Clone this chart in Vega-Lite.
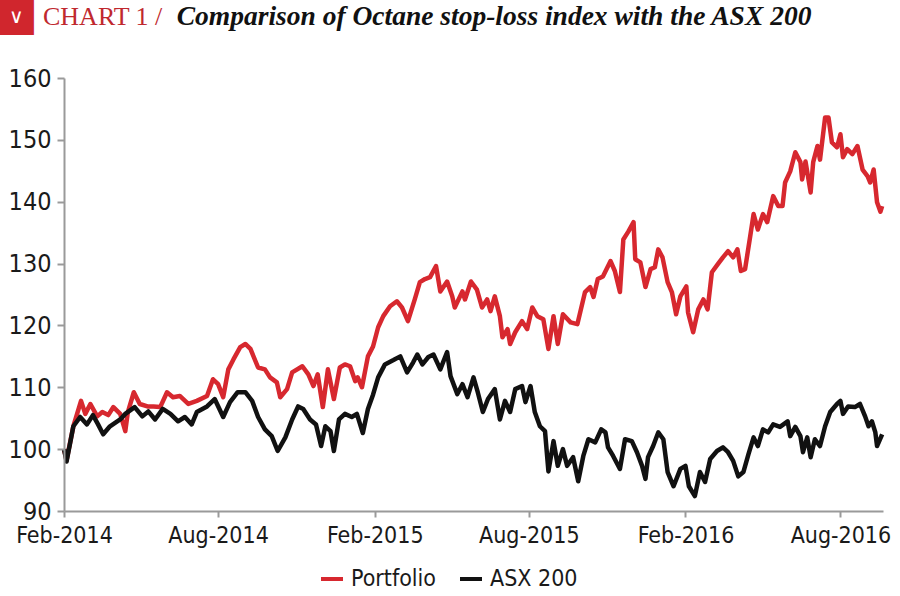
{
"$schema": "https://vega.github.io/schema/vega-lite/v6.json",
"width": 819, "height": 433,
"autosize": {"type": "none"},
"padding": {"left": 64, "top": 78, "right": 17, "bottom": 85},
"background": "white",
"config": {"view": {"stroke": null}, "font": "DejaVu Sans Condensed, DejaVu Sans, sans-serif"},
"title": {
 "text": "CHART 1 /",
 "subtitle": "\u2800\u2800\u2800\u2800\u2800\u2800\u00a0\u00a0Comparison of Octane stop-loss index with the ASX 200",
 "anchor": "start", "frame": "group", "dx": -21, "offset": -40,
 "font": "Liberation Serif", "fontSize": 26, "fontWeight": "normal", "color": "#c0282e",
 "subtitleFont": "Liberation Serif", "subtitleFontSize": 27.5, "subtitleFontStyle": "italic", "subtitleFontWeight": "bold", "subtitleColor": "#111111",
 "subtitlePadding": -27
},
"data": {"values": [
{"date":"2014-02-01","series":"Portfolio","value":100.0},
{"date":"2014-02-04","series":"Portfolio","value":98.2},
{"date":"2014-02-12","series":"Portfolio","value":103.7},
{"date":"2014-02-21","series":"Portfolio","value":107.8},
{"date":"2014-02-26","series":"Portfolio","value":105.7},
{"date":"2014-03-04","series":"Portfolio","value":107.3},
{"date":"2014-03-12","series":"Portfolio","value":105.3},
{"date":"2014-03-18","series":"Portfolio","value":106.0},
{"date":"2014-03-25","series":"Portfolio","value":105.5},
{"date":"2014-03-31","series":"Portfolio","value":106.8},
{"date":"2014-04-08","series":"Portfolio","value":105.7},
{"date":"2014-04-14","series":"Portfolio","value":102.9},
{"date":"2014-04-17","series":"Portfolio","value":106.0},
{"date":"2014-04-24","series":"Portfolio","value":109.2},
{"date":"2014-05-01","series":"Portfolio","value":107.3},
{"date":"2014-05-10","series":"Portfolio","value":106.9},
{"date":"2014-05-17","series":"Portfolio","value":106.9},
{"date":"2014-05-25","series":"Portfolio","value":106.8},
{"date":"2014-06-02","series":"Portfolio","value":109.2},
{"date":"2014-06-09","series":"Portfolio","value":108.4},
{"date":"2014-06-17","series":"Portfolio","value":108.6},
{"date":"2014-06-27","series":"Portfolio","value":107.3},
{"date":"2014-07-07","series":"Portfolio","value":107.8},
{"date":"2014-07-19","series":"Portfolio","value":108.6},
{"date":"2014-07-26","series":"Portfolio","value":111.3},
{"date":"2014-08-01","series":"Portfolio","value":110.5},
{"date":"2014-08-07","series":"Portfolio","value":108.4},
{"date":"2014-08-13","series":"Portfolio","value":112.9},
{"date":"2014-08-19","series":"Portfolio","value":114.5},
{"date":"2014-08-27","series":"Portfolio","value":116.5},
{"date":"2014-09-02","series":"Portfolio","value":117.0},
{"date":"2014-09-08","series":"Portfolio","value":116.2},
{"date":"2014-09-17","series":"Portfolio","value":113.2},
{"date":"2014-09-25","series":"Portfolio","value":112.9},
{"date":"2014-10-01","series":"Portfolio","value":111.6},
{"date":"2014-10-09","series":"Portfolio","value":110.8},
{"date":"2014-10-13","series":"Portfolio","value":108.4},
{"date":"2014-10-21","series":"Portfolio","value":109.7},
{"date":"2014-10-27","series":"Portfolio","value":112.4},
{"date":"2014-11-08","series":"Portfolio","value":113.4},
{"date":"2014-11-15","series":"Portfolio","value":112.1},
{"date":"2014-11-21","series":"Portfolio","value":110.2},
{"date":"2014-11-26","series":"Portfolio","value":112.1},
{"date":"2014-12-02","series":"Portfolio","value":106.8},
{"date":"2014-12-08","series":"Portfolio","value":112.9},
{"date":"2014-12-15","series":"Portfolio","value":108.1},
{"date":"2014-12-22","series":"Portfolio","value":113.2},
{"date":"2014-12-28","series":"Portfolio","value":113.7},
{"date":"2015-01-03","series":"Portfolio","value":113.4},
{"date":"2015-01-09","series":"Portfolio","value":111.0},
{"date":"2015-01-12","series":"Portfolio","value":111.6},
{"date":"2015-01-17","series":"Portfolio","value":110.0},
{"date":"2015-01-24","series":"Portfolio","value":115.0},
{"date":"2015-01-30","series":"Portfolio","value":116.6},
{"date":"2015-02-05","series":"Portfolio","value":119.7},
{"date":"2015-02-11","series":"Portfolio","value":121.5},
{"date":"2015-02-19","series":"Portfolio","value":123.1},
{"date":"2015-02-27","series":"Portfolio","value":123.9},
{"date":"2015-03-05","series":"Portfolio","value":122.9},
{"date":"2015-03-12","series":"Portfolio","value":120.7},
{"date":"2015-03-20","series":"Portfolio","value":124.2},
{"date":"2015-03-26","series":"Portfolio","value":127.0},
{"date":"2015-04-01","series":"Portfolio","value":127.5},
{"date":"2015-04-07","series":"Portfolio","value":127.8},
{"date":"2015-04-14","series":"Portfolio","value":129.6},
{"date":"2015-04-19","series":"Portfolio","value":125.5},
{"date":"2015-04-27","series":"Portfolio","value":127.1},
{"date":"2015-05-03","series":"Portfolio","value":124.7},
{"date":"2015-05-06","series":"Portfolio","value":122.9},
{"date":"2015-05-15","series":"Portfolio","value":125.5},
{"date":"2015-05-18","series":"Portfolio","value":124.2},
{"date":"2015-05-25","series":"Portfolio","value":127.1},
{"date":"2015-06-01","series":"Portfolio","value":125.8},
{"date":"2015-06-07","series":"Portfolio","value":122.9},
{"date":"2015-06-13","series":"Portfolio","value":124.2},
{"date":"2015-06-17","series":"Portfolio","value":122.3},
{"date":"2015-06-22","series":"Portfolio","value":124.7},
{"date":"2015-06-28","series":"Portfolio","value":121.5},
{"date":"2015-07-01","series":"Portfolio","value":118.1},
{"date":"2015-07-07","series":"Portfolio","value":119.4},
{"date":"2015-07-10","series":"Portfolio","value":117.0},
{"date":"2015-07-16","series":"Portfolio","value":118.9},
{"date":"2015-07-24","series":"Portfolio","value":120.7},
{"date":"2015-07-30","series":"Portfolio","value":119.4},
{"date":"2015-08-05","series":"Portfolio","value":122.9},
{"date":"2015-08-11","series":"Portfolio","value":121.5},
{"date":"2015-08-18","series":"Portfolio","value":121.0},
{"date":"2015-08-24","series":"Portfolio","value":116.2},
{"date":"2015-08-30","series":"Portfolio","value":121.5},
{"date":"2015-09-04","series":"Portfolio","value":117.0},
{"date":"2015-09-10","series":"Portfolio","value":121.8},
{"date":"2015-09-19","series":"Portfolio","value":120.5},
{"date":"2015-09-27","series":"Portfolio","value":120.2},
{"date":"2015-10-06","series":"Portfolio","value":125.4},
{"date":"2015-10-12","series":"Portfolio","value":126.2},
{"date":"2015-10-16","series":"Portfolio","value":124.6},
{"date":"2015-10-21","series":"Portfolio","value":127.5},
{"date":"2015-10-27","series":"Portfolio","value":127.9},
{"date":"2015-11-05","series":"Portfolio","value":130.4},
{"date":"2015-11-10","series":"Portfolio","value":128.8},
{"date":"2015-11-16","series":"Portfolio","value":125.4},
{"date":"2015-11-20","series":"Portfolio","value":133.9},
{"date":"2015-11-26","series":"Portfolio","value":135.2},
{"date":"2015-12-02","series":"Portfolio","value":136.7},
{"date":"2015-12-04","series":"Portfolio","value":130.7},
{"date":"2015-12-10","series":"Portfolio","value":130.2},
{"date":"2015-12-16","series":"Portfolio","value":126.2},
{"date":"2015-12-22","series":"Portfolio","value":129.1},
{"date":"2015-12-27","series":"Portfolio","value":129.4},
{"date":"2015-12-31","series":"Portfolio","value":132.3},
{"date":"2016-01-05","series":"Portfolio","value":131.0},
{"date":"2016-01-11","series":"Portfolio","value":127.0},
{"date":"2016-01-16","series":"Portfolio","value":125.4},
{"date":"2016-01-21","series":"Portfolio","value":121.8},
{"date":"2016-01-26","series":"Portfolio","value":124.7},
{"date":"2016-02-02","series":"Portfolio","value":126.3},
{"date":"2016-02-04","series":"Portfolio","value":122.1},
{"date":"2016-02-10","series":"Portfolio","value":118.9},
{"date":"2016-02-16","series":"Portfolio","value":122.6},
{"date":"2016-02-22","series":"Portfolio","value":124.2},
{"date":"2016-02-27","series":"Portfolio","value":122.6},
{"date":"2016-03-03","series":"Portfolio","value":128.6},
{"date":"2016-03-10","series":"Portfolio","value":129.9},
{"date":"2016-03-16","series":"Portfolio","value":131.0},
{"date":"2016-03-22","series":"Portfolio","value":132.0},
{"date":"2016-03-28","series":"Portfolio","value":131.0},
{"date":"2016-04-02","series":"Portfolio","value":132.3},
{"date":"2016-04-06","series":"Portfolio","value":128.8},
{"date":"2016-04-11","series":"Portfolio","value":129.1},
{"date":"2016-04-17","series":"Portfolio","value":134.4},
{"date":"2016-04-21","series":"Portfolio","value":138.0},
{"date":"2016-04-26","series":"Portfolio","value":135.5},
{"date":"2016-05-02","series":"Portfolio","value":138.0},
{"date":"2016-05-07","series":"Portfolio","value":136.7},
{"date":"2016-05-14","series":"Portfolio","value":140.9},
{"date":"2016-05-20","series":"Portfolio","value":139.3},
{"date":"2016-05-25","series":"Portfolio","value":139.3},
{"date":"2016-05-28","series":"Portfolio","value":143.1},
{"date":"2016-06-03","series":"Portfolio","value":144.9},
{"date":"2016-06-09","series":"Portfolio","value":148.0},
{"date":"2016-06-15","series":"Portfolio","value":146.4},
{"date":"2016-06-17","series":"Portfolio","value":143.6},
{"date":"2016-06-21","series":"Portfolio","value":146.5},
{"date":"2016-06-27","series":"Portfolio","value":141.5},
{"date":"2016-06-30","series":"Portfolio","value":146.4},
{"date":"2016-07-05","series":"Portfolio","value":149.0},
{"date":"2016-07-08","series":"Portfolio","value":146.8},
{"date":"2016-07-14","series":"Portfolio","value":153.6},
{"date":"2016-07-18","series":"Portfolio","value":153.6},
{"date":"2016-07-22","series":"Portfolio","value":149.6},
{"date":"2016-07-28","series":"Portfolio","value":148.8},
{"date":"2016-08-01","series":"Portfolio","value":150.9},
{"date":"2016-08-04","series":"Portfolio","value":147.2},
{"date":"2016-08-09","series":"Portfolio","value":148.5},
{"date":"2016-08-15","series":"Portfolio","value":147.7},
{"date":"2016-08-21","series":"Portfolio","value":149.0},
{"date":"2016-08-27","series":"Portfolio","value":145.2},
{"date":"2016-09-02","series":"Portfolio","value":144.1},
{"date":"2016-09-05","series":"Portfolio","value":143.1},
{"date":"2016-09-09","series":"Portfolio","value":145.2},
{"date":"2016-09-13","series":"Portfolio","value":139.9},
{"date":"2016-09-17","series":"Portfolio","value":138.4},
{"date":"2016-09-19","series":"Portfolio","value":139.3},
{"date":"2014-02-01","series":"ASX 200","value":100.0},
{"date":"2014-02-04","series":"ASX 200","value":98.0},
{"date":"2014-02-12","series":"ASX 200","value":103.7},
{"date":"2014-02-20","series":"ASX 200","value":105.2},
{"date":"2014-02-28","series":"ASX 200","value":104.0},
{"date":"2014-03-07","series":"ASX 200","value":105.5},
{"date":"2014-03-13","series":"ASX 200","value":104.0},
{"date":"2014-03-19","series":"ASX 200","value":102.4},
{"date":"2014-03-27","series":"ASX 200","value":103.7},
{"date":"2014-04-08","series":"ASX 200","value":104.8},
{"date":"2014-04-14","series":"ASX 200","value":105.7},
{"date":"2014-04-25","series":"ASX 200","value":106.8},
{"date":"2014-05-04","series":"ASX 200","value":105.3},
{"date":"2014-05-11","series":"ASX 200","value":106.1},
{"date":"2014-05-19","series":"ASX 200","value":104.8},
{"date":"2014-05-28","series":"ASX 200","value":106.5},
{"date":"2014-06-06","series":"ASX 200","value":105.7},
{"date":"2014-06-15","series":"ASX 200","value":104.5},
{"date":"2014-06-23","series":"ASX 200","value":105.2},
{"date":"2014-07-01","series":"ASX 200","value":104.0},
{"date":"2014-07-07","series":"ASX 200","value":106.0},
{"date":"2014-07-19","series":"ASX 200","value":106.9},
{"date":"2014-07-28","series":"ASX 200","value":108.1},
{"date":"2014-08-07","series":"ASX 200","value":105.2},
{"date":"2014-08-15","series":"ASX 200","value":107.6},
{"date":"2014-08-24","series":"ASX 200","value":109.2},
{"date":"2014-09-02","series":"ASX 200","value":109.2},
{"date":"2014-09-10","series":"ASX 200","value":107.8},
{"date":"2014-09-17","series":"ASX 200","value":105.2},
{"date":"2014-09-25","series":"ASX 200","value":103.2},
{"date":"2014-10-03","series":"ASX 200","value":102.1},
{"date":"2014-10-10","series":"ASX 200","value":99.7},
{"date":"2014-10-19","series":"ASX 200","value":101.9},
{"date":"2014-10-27","series":"ASX 200","value":104.8},
{"date":"2014-11-03","series":"ASX 200","value":106.9},
{"date":"2014-11-09","series":"ASX 200","value":106.5},
{"date":"2014-11-17","series":"ASX 200","value":104.8},
{"date":"2014-11-24","series":"ASX 200","value":104.0},
{"date":"2014-11-30","series":"ASX 200","value":100.5},
{"date":"2014-12-05","series":"ASX 200","value":103.7},
{"date":"2014-12-11","series":"ASX 200","value":102.9},
{"date":"2014-12-15","series":"ASX 200","value":99.7},
{"date":"2014-12-21","series":"ASX 200","value":104.8},
{"date":"2014-12-28","series":"ASX 200","value":105.7},
{"date":"2015-01-05","series":"ASX 200","value":105.2},
{"date":"2015-01-11","series":"ASX 200","value":105.7},
{"date":"2015-01-18","series":"ASX 200","value":102.6},
{"date":"2015-01-24","series":"ASX 200","value":106.5},
{"date":"2015-01-30","series":"ASX 200","value":108.8},
{"date":"2015-02-05","series":"ASX 200","value":111.6},
{"date":"2015-02-13","series":"ASX 200","value":113.7},
{"date":"2015-02-23","series":"ASX 200","value":114.4},
{"date":"2015-03-03","series":"ASX 200","value":115.0},
{"date":"2015-03-11","series":"ASX 200","value":112.4},
{"date":"2015-03-18","series":"ASX 200","value":114.0},
{"date":"2015-03-23","series":"ASX 200","value":115.3},
{"date":"2015-03-29","series":"ASX 200","value":113.7},
{"date":"2015-04-05","series":"ASX 200","value":114.9},
{"date":"2015-04-11","series":"ASX 200","value":115.3},
{"date":"2015-04-19","series":"ASX 200","value":112.9},
{"date":"2015-04-27","series":"ASX 200","value":115.7},
{"date":"2015-05-01","series":"ASX 200","value":111.8},
{"date":"2015-05-09","series":"ASX 200","value":108.9},
{"date":"2015-05-15","series":"ASX 200","value":110.5},
{"date":"2015-05-21","series":"ASX 200","value":108.4},
{"date":"2015-05-28","series":"ASX 200","value":111.6},
{"date":"2015-06-02","series":"ASX 200","value":109.2},
{"date":"2015-06-08","series":"ASX 200","value":106.0},
{"date":"2015-06-14","series":"ASX 200","value":108.1},
{"date":"2015-06-22","series":"ASX 200","value":109.7},
{"date":"2015-06-28","series":"ASX 200","value":104.8},
{"date":"2015-07-04","series":"ASX 200","value":107.8},
{"date":"2015-07-10","series":"ASX 200","value":106.0},
{"date":"2015-07-16","series":"ASX 200","value":109.7},
{"date":"2015-07-24","series":"ASX 200","value":110.2},
{"date":"2015-07-28","series":"ASX 200","value":107.6},
{"date":"2015-08-03","series":"ASX 200","value":110.2},
{"date":"2015-08-08","series":"ASX 200","value":106.0},
{"date":"2015-08-14","series":"ASX 200","value":103.7},
{"date":"2015-08-20","series":"ASX 200","value":102.9},
{"date":"2015-08-24","series":"ASX 200","value":96.4},
{"date":"2015-08-30","series":"ASX 200","value":101.3},
{"date":"2015-09-04","series":"ASX 200","value":97.3},
{"date":"2015-09-10","series":"ASX 200","value":100.0},
{"date":"2015-09-15","series":"ASX 200","value":97.3},
{"date":"2015-09-22","series":"ASX 200","value":98.7},
{"date":"2015-09-28","series":"ASX 200","value":94.8},
{"date":"2015-10-04","series":"ASX 200","value":98.9},
{"date":"2015-10-10","series":"ASX 200","value":101.6},
{"date":"2015-10-18","series":"ASX 200","value":101.1},
{"date":"2015-10-25","series":"ASX 200","value":103.2},
{"date":"2015-10-30","series":"ASX 200","value":102.7},
{"date":"2015-11-02","series":"ASX 200","value":100.3},
{"date":"2015-11-08","series":"ASX 200","value":98.9},
{"date":"2015-11-16","series":"ASX 200","value":96.8},
{"date":"2015-11-22","series":"ASX 200","value":101.6},
{"date":"2015-11-30","series":"ASX 200","value":101.3},
{"date":"2015-12-06","series":"ASX 200","value":99.5},
{"date":"2015-12-12","series":"ASX 200","value":97.3},
{"date":"2015-12-16","series":"ASX 200","value":95.2},
{"date":"2015-12-19","series":"ASX 200","value":98.7},
{"date":"2015-12-25","series":"ASX 200","value":100.5},
{"date":"2015-12-31","series":"ASX 200","value":102.7},
{"date":"2016-01-06","series":"ASX 200","value":101.6},
{"date":"2016-01-11","series":"ASX 200","value":96.3},
{"date":"2016-01-18","series":"ASX 200","value":94.0},
{"date":"2016-01-26","series":"ASX 200","value":96.8},
{"date":"2016-02-01","series":"ASX 200","value":97.3},
{"date":"2016-02-05","series":"ASX 200","value":94.0},
{"date":"2016-02-12","series":"ASX 200","value":92.4},
{"date":"2016-02-18","series":"ASX 200","value":96.3},
{"date":"2016-02-24","series":"ASX 200","value":94.7},
{"date":"2016-03-01","series":"ASX 200","value":98.4},
{"date":"2016-03-09","series":"ASX 200","value":99.7},
{"date":"2016-03-16","series":"ASX 200","value":100.3},
{"date":"2016-03-22","series":"ASX 200","value":99.5},
{"date":"2016-03-28","series":"ASX 200","value":98.1},
{"date":"2016-04-03","series":"ASX 200","value":95.6},
{"date":"2016-04-09","series":"ASX 200","value":96.3},
{"date":"2016-04-15","series":"ASX 200","value":99.2},
{"date":"2016-04-21","series":"ASX 200","value":101.9},
{"date":"2016-04-26","series":"ASX 200","value":100.5},
{"date":"2016-05-02","series":"ASX 200","value":103.2},
{"date":"2016-05-08","series":"ASX 200","value":102.7},
{"date":"2016-05-14","series":"ASX 200","value":104.0},
{"date":"2016-05-22","series":"ASX 200","value":103.6},
{"date":"2016-05-31","series":"ASX 200","value":104.5},
{"date":"2016-06-03","series":"ASX 200","value":102.1},
{"date":"2016-06-09","series":"ASX 200","value":103.6},
{"date":"2016-06-15","series":"ASX 200","value":102.1},
{"date":"2016-06-18","series":"ASX 200","value":99.5},
{"date":"2016-06-23","series":"ASX 200","value":101.9},
{"date":"2016-06-27","series":"ASX 200","value":98.7},
{"date":"2016-07-02","series":"ASX 200","value":101.6},
{"date":"2016-07-08","series":"ASX 200","value":100.5},
{"date":"2016-07-14","series":"ASX 200","value":103.7},
{"date":"2016-07-20","series":"ASX 200","value":106.0},
{"date":"2016-07-28","series":"ASX 200","value":107.3},
{"date":"2016-08-01","series":"ASX 200","value":107.8},
{"date":"2016-08-04","series":"ASX 200","value":105.7},
{"date":"2016-08-10","series":"ASX 200","value":106.9},
{"date":"2016-08-18","series":"ASX 200","value":106.8},
{"date":"2016-08-24","series":"ASX 200","value":107.3},
{"date":"2016-08-30","series":"ASX 200","value":105.3},
{"date":"2016-09-03","series":"ASX 200","value":103.7},
{"date":"2016-09-07","series":"ASX 200","value":104.5},
{"date":"2016-09-11","series":"ASX 200","value":102.7},
{"date":"2016-09-13","series":"ASX 200","value":100.5},
{"date":"2016-09-19","series":"ASX 200","value":102.4}
]},
"encoding": {
 "x": {"field": "date", "type": "temporal",
  "scale": {"type": "utc", "domain": [{"year": 2014, "month": "feb", "date": 1, "utc": true}, {"year": 2016, "month": "sep", "date": 20, "utc": true}]},
  "axis": {"values": [
    {"year": 2014, "month": "feb", "date": 1, "utc": true},
    {"year": 2014, "month": "aug", "date": 1, "utc": true},
    {"year": 2015, "month": "feb", "date": 1, "utc": true},
    {"year": 2015, "month": "aug", "date": 1, "utc": true},
    {"year": 2016, "month": "feb", "date": 1, "utc": true},
    {"year": 2016, "month": "aug", "date": 1, "utc": true}],
   "labelExpr": "utcFormat(datum.value, '%b-%Y')", "grid": false, "zindex": 2,
   "labelFontSize": 23, "labelColor": "#1a1a1a", "labelPadding": 7, "labelOverlap": false, "labelFlush": false,
   "domainColor": "#9a9a9a", "domainWidth": 2, "tickColor": "#9a9a9a", "tickWidth": 2, "tickSize": 6,
   "title": "\u2228", "titleX": -48, "titleY": -495, "titleColor": "#ffffff", "titleFont": "DejaVu Sans", "titleFontSize": 20, "titleFontWeight": 200, "titleAlign": "center", "titleBaseline": "middle"}},
 "y": {"field": "value", "type": "quantitative",
  "scale": {"domain": [90, 160], "nice": false, "zero": false},
  "axis": {"values": [90, 100, 110, 120, 130, 140, 150, 160], "grid": false, "zindex": 1,
   "labelFontSize": 25, "labelColor": "#1a1a1a", "labelPadding": 6,
   "domainColor": "#9a9a9a", "domainWidth": 2, "tickColor": "#9a9a9a", "tickWidth": 2, "tickSize": 7,
   "title": "\u25a0", "titleAngle": 0, "titleX": -48, "titleY": -64, "titleColor": "#d0262d", "titleFont": "DejaVu Sans", "titleFontSize": 46, "titleFontWeight": "normal", "titleAlign": "center", "titleBaseline": "middle"}},
 "color": {"field": "series", "type": "nominal",
  "scale": {"domain": ["Portfolio", "ASX 200"], "range": ["#d7282f", "#111111"]},
  "legend": {"orient": "none", "legendX": 255, "legendY": 488, "direction": "horizontal", "title": null,
   "labelFontSize": 23, "labelColor": "#1a1a1a", "symbolType": "stroke", "symbolStrokeWidth": 4, "symbolSize": 484, "labelOffset": 6, "columnPadding": 15}}
},
"layer": [
 {"transform": [{"filter": "datum.series === 'Portfolio'"}], "mark": {"type": "line", "strokeWidth": 4.5, "strokeJoin": "round"}},
 {"transform": [{"filter": "datum.series === 'ASX 200'"}], "mark": {"type": "line", "strokeWidth": 4.5, "strokeJoin": "round"}}
]
}
